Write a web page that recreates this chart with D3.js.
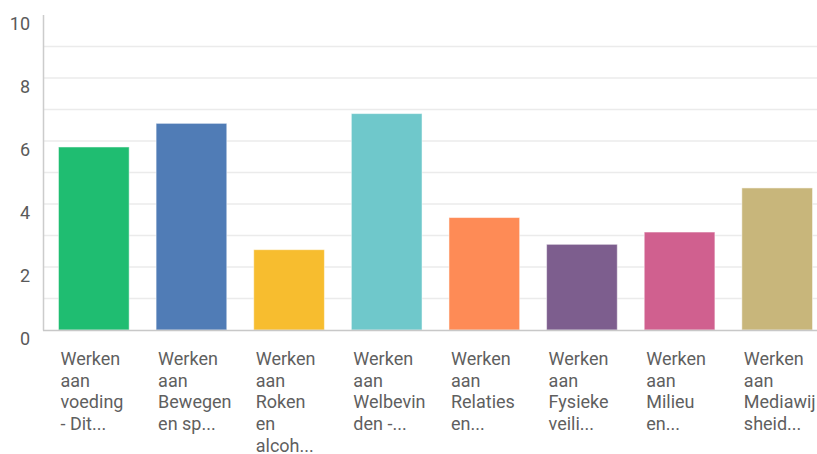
<!DOCTYPE html>
<html>
<head>
<meta charset="utf-8">
<script src="https://cdn.jsdelivr.net/npm/d3@7"></script>
<style>
  html, body { margin: 0; padding: 0; background: #fff; }
  svg { display: block; }
</style>
</head>
<body>
<svg id="chart" width="817" height="454"></svg>
<script>
const categories = [
  "Werken aan voeding - Dit...",
  "Werken aan Bewegen en sp...",
  "Werken aan Roken en alcoh...",
  "Werken aan Welbevinden -...",
  "Werken aan Relaties en...",
  "Werken aan Fysieke veili...",
  "Werken aan Milieu en...",
  "Werken aan Mediawijsheid..."
];
const labelLines = [
  ["Werken", "aan", "voeding", "- Dit..."],
  ["Werken", "aan", "Bewegen", "en sp..."],
  ["Werken", "aan", "Roken", "en", "alcoh..."],
  ["Werken", "aan", "Welbevin", "den -..."],
  ["Werken", "aan", "Relaties", "en..."],
  ["Werken", "aan", "Fysieke", "veili..."],
  ["Werken", "aan", "Milieu", "en..."],
  ["Werken", "aan", "Mediawij", "sheid..."]
];
const values = [5.81, 6.56, 2.55, 6.87, 3.57, 2.72, 3.11, 4.51];
const colors = ["#1fbd71", "#507cb6", "#f7bd2f", "#6fc8cb", "#fe8b56", "#7d5e8e", "#d0608f", "#c8b67b"];
const yTicks = [0, 2, 4, 6, 8, 10];
const yGrid = [1, 2, 3, 4, 5, 6, 7, 8, 9];

const svg = d3.select("#chart");
const font = "Roboto, 'Noto Sans', sans-serif";

const y = d3.scaleLinear().domain([0, 10]).range([330, 15]);
const x = d3.scaleBand().domain(categories).range([45, 826])
  .paddingInner(0.276).paddingOuter(0.138);

// gridlines
svg.append("g").selectAll("line").data(yGrid).join("line")
  .attr("x1", 44).attr("x2", 817)
  .attr("y1", d => y(d)).attr("y2", d => y(d))
  .attr("stroke", "#ebebeb").attr("stroke-width", 1.5);

// y axis labels
svg.append("g").selectAll("text").data(yTicks).join("text")
  .attr("x", 30).attr("y", d => y(d) + 14.5)
  .attr("text-anchor", "end")
  .attr("font-family", font).attr("font-size", 18)
  .attr("fill", "#5a5a5a")
  .text(d => d);

// bars
svg.append("g").selectAll("rect").data(values).join("rect")
  .attr("x", (d, i) => x(categories[i]))
  .attr("width", x.bandwidth())
  .attr("y", d => y(d))
  .attr("height", d => y(0) - y(d))
  .attr("fill", (d, i) => colors[i])
  .attr("stroke", "rgba(255,255,255,0.5)")
  .attr("stroke-width", 1);

// axes lines
svg.append("line").attr("x1", 43.5).attr("x2", 43.5).attr("y1", 15).attr("y2", 330.5)
  .attr("stroke", "#cccccc").attr("stroke-width", 1.5);
svg.append("line").attr("x1", 43).attr("x2", 817).attr("y1", 330.5).attr("y2", 330.5)
  .attr("stroke", "#c8c8c8").attr("stroke-width", 1.5);

// x labels
const lg = svg.append("g");
categories.forEach((c, i) => {
  const t = lg.append("text")
    .attr("x", x(c) + 2).attr("y", 365)
    .attr("font-family", font).attr("font-size", 18)
    .attr("fill", "#5f5f5f");
  labelLines[i].forEach((ln, j) => {
    t.append("tspan").attr("x", x(c) + 2).attr("y", 365 + j * 21.7).text(ln);
  });
});
</script>
</body>
</html>
